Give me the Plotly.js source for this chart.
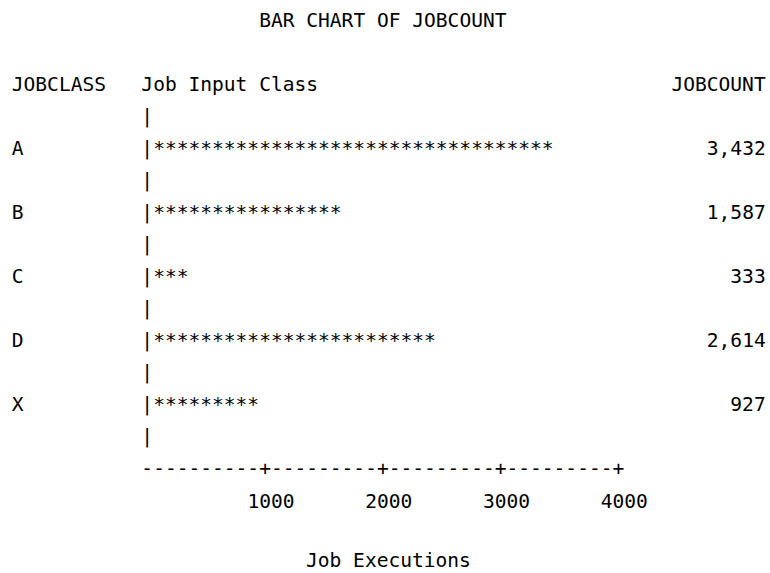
<!DOCTYPE html>
<html>
<head>
<meta charset="utf-8">
<script src="https://cdn.plot.ly/plotly-3.0.1.min.js"></script>
<style>html,body{margin:0;padding:0;background:#fff;}</style>
</head>
<body>
<div id="chart" style="width:770px;height:573px;"></div>
<script>
// ---- data ----
const categories = ['A', 'B', 'C', 'D', 'X'];
const jobCounts = [3432, 1587, 333, 2614, 927];
// number of '*' symbols printed in each bar, as read from the listing
const barSymbols = [34, 16, 3, 24, 9];
const tickValues = [1000, 2000, 3000, 4000];
const tickLabels = ['1000', '2000', '3000', '4000'];
const groupHeader = 'JOBCLASS';
const barHeader = 'Job Input Class';
const valueHeader = 'JOBCOUNT';
const chartTitle = 'BAR CHART OF JOBCOUNT';
const axisTitle = 'Job Executions';
const unitsPerSymbol = 100;

// ---- character-grid geometry (monospace listing) ----
const FONT = 'DejaVu Sans Mono';
const FS = 19.57;          // font size px
const CW = 11.78;          // character advance px
const LINE = 32;           // line height px
const W = 770, H = 573;
const ML = 7, MB = 86;     // plot area margins
const ORIGIN_PX = 12 * CW; // pixel of the bar origin column
const TOTAL_COLS = 64;
const AXIS_COL = 11;
const toVal = col => (col - AXIS_COL) * unitsPerSymbol;   // column -> axis value
const LINE0 = 27 - 0.25 * FS;                              // y pixel of line 0

const n = categories.length;
const catLine = i => 4 + 2 * i;
const rowLines = categories.map((c, i) => catLine(i));
const spacerLines = [];
for (let i = 0; i <= n; i++) spacerLines.push(3 + 2 * i);
const dashLine = 4 + 2 * n;
const axisTitleLine = dashLine + 3;

const font = {family: FONT, size: FS, color: '#000'};
const base = {type: 'scatter', mode: 'text', textfont: font, hoverinfo: 'skip',
              showlegend: false, cliponaxis: false};

const barText = barSymbols.map(k => '|' + '*'.repeat(k));
const valueText = jobCounts.map(v => v.toLocaleString('en-US'));
const maxTick = Math.max(...tickValues);
let axisStr = '';
for (let p = 0; p <= maxTick / unitsPerSymbol; p++) {
  axisStr += (p > 0 && tickValues.includes(p * unitsPerSymbol)) ? '+' : '-';
}
// listing style: each tick label starts one column before its '+' mark
const NBSP = '\u00A0';
const tickText = tickLabels.map(t => NBSP.repeat(2) + t);

const traces = [
  Object.assign({}, base, {name: 'headers', x: [toVal(0), toVal(AXIS_COL)], y: [2, 2],
    text: [groupHeader, barHeader], textposition: 'middle right'}),
  Object.assign({}, base, {name: 'value header', x: [toVal(TOTAL_COLS)], y: [2],
    text: [valueHeader], textposition: 'middle left'}),
  Object.assign({}, base, {name: 'categories', x: categories.map(() => toVal(0)), y: rowLines,
    text: categories, textposition: 'middle right'}),
  Object.assign({}, base, {name: 'axis', x: spacerLines.map(() => 0), y: spacerLines,
    text: spacerLines.map(() => '|'), textposition: 'middle right'}),
  Object.assign({}, base, {name: 'JOBCOUNT bars', x: barSymbols.map(() => 0), y: rowLines,
    text: barText, textposition: 'middle right', customdata: jobCounts}),
  Object.assign({}, base, {name: 'values', x: jobCounts.map(() => toVal(TOTAL_COLS)), y: rowLines,
    text: valueText, textposition: 'middle left'}),
  Object.assign({}, base, {name: 'x axis line', x: [0], y: [dashLine],
    text: [axisStr], textposition: 'middle right'})
];

const plotBottom = H - MB;
// pixel of the caps centre of a listing line
const lineCapCenterPx = k => 27 + LINE * k - 0.365 * FS;
const layout = {
  width: W, height: H,
  margin: {l: ML, r: 0, t: 0, b: MB, pad: 0},
  paper_bgcolor: '#fff', plot_bgcolor: '#fff',
  showlegend: false,
  font: font,
  title: {text: chartTitle, font: font, xref: 'container', x: 22 * CW / W, xanchor: 'left',
          yref: 'container', y: 1 - 27 / H, yanchor: 'bottom', pad: {t: 0, b: 0, l: 0, r: 0}},
  xaxis: {
    range: [(ML - ORIGIN_PX) / CW * unitsPerSymbol, (W - ORIGIN_PX) / CW * unitsPerSymbol],
    tickmode: 'array', tickvals: tickValues, ticktext: tickText,
    ticks: '', showgrid: false, zeroline: false, showline: false,
    tickfont: font, automargin: false, fixedrange: true
  },
  yaxis: {
    range: [(plotBottom - LINE0) / LINE, (0 - LINE0) / LINE],
    visible: false, showgrid: false, zeroline: false, fixedrange: true
  },
  annotations: [{
    text: axisTitle, font: font, showarrow: false,
    xref: 'x', x: toVal(TOTAL_COLS / 2), xanchor: 'center',
    yref: 'paper', y: (plotBottom - (lineCapCenterPx(axisTitleLine) - 3)) / plotBottom, yanchor: 'middle',
    borderpad: 0, borderwidth: 0
  }]
};

Plotly.newPlot('chart', traces, layout, {displayModeBar: false, staticPlot: true});
</script>
</body>
</html>
